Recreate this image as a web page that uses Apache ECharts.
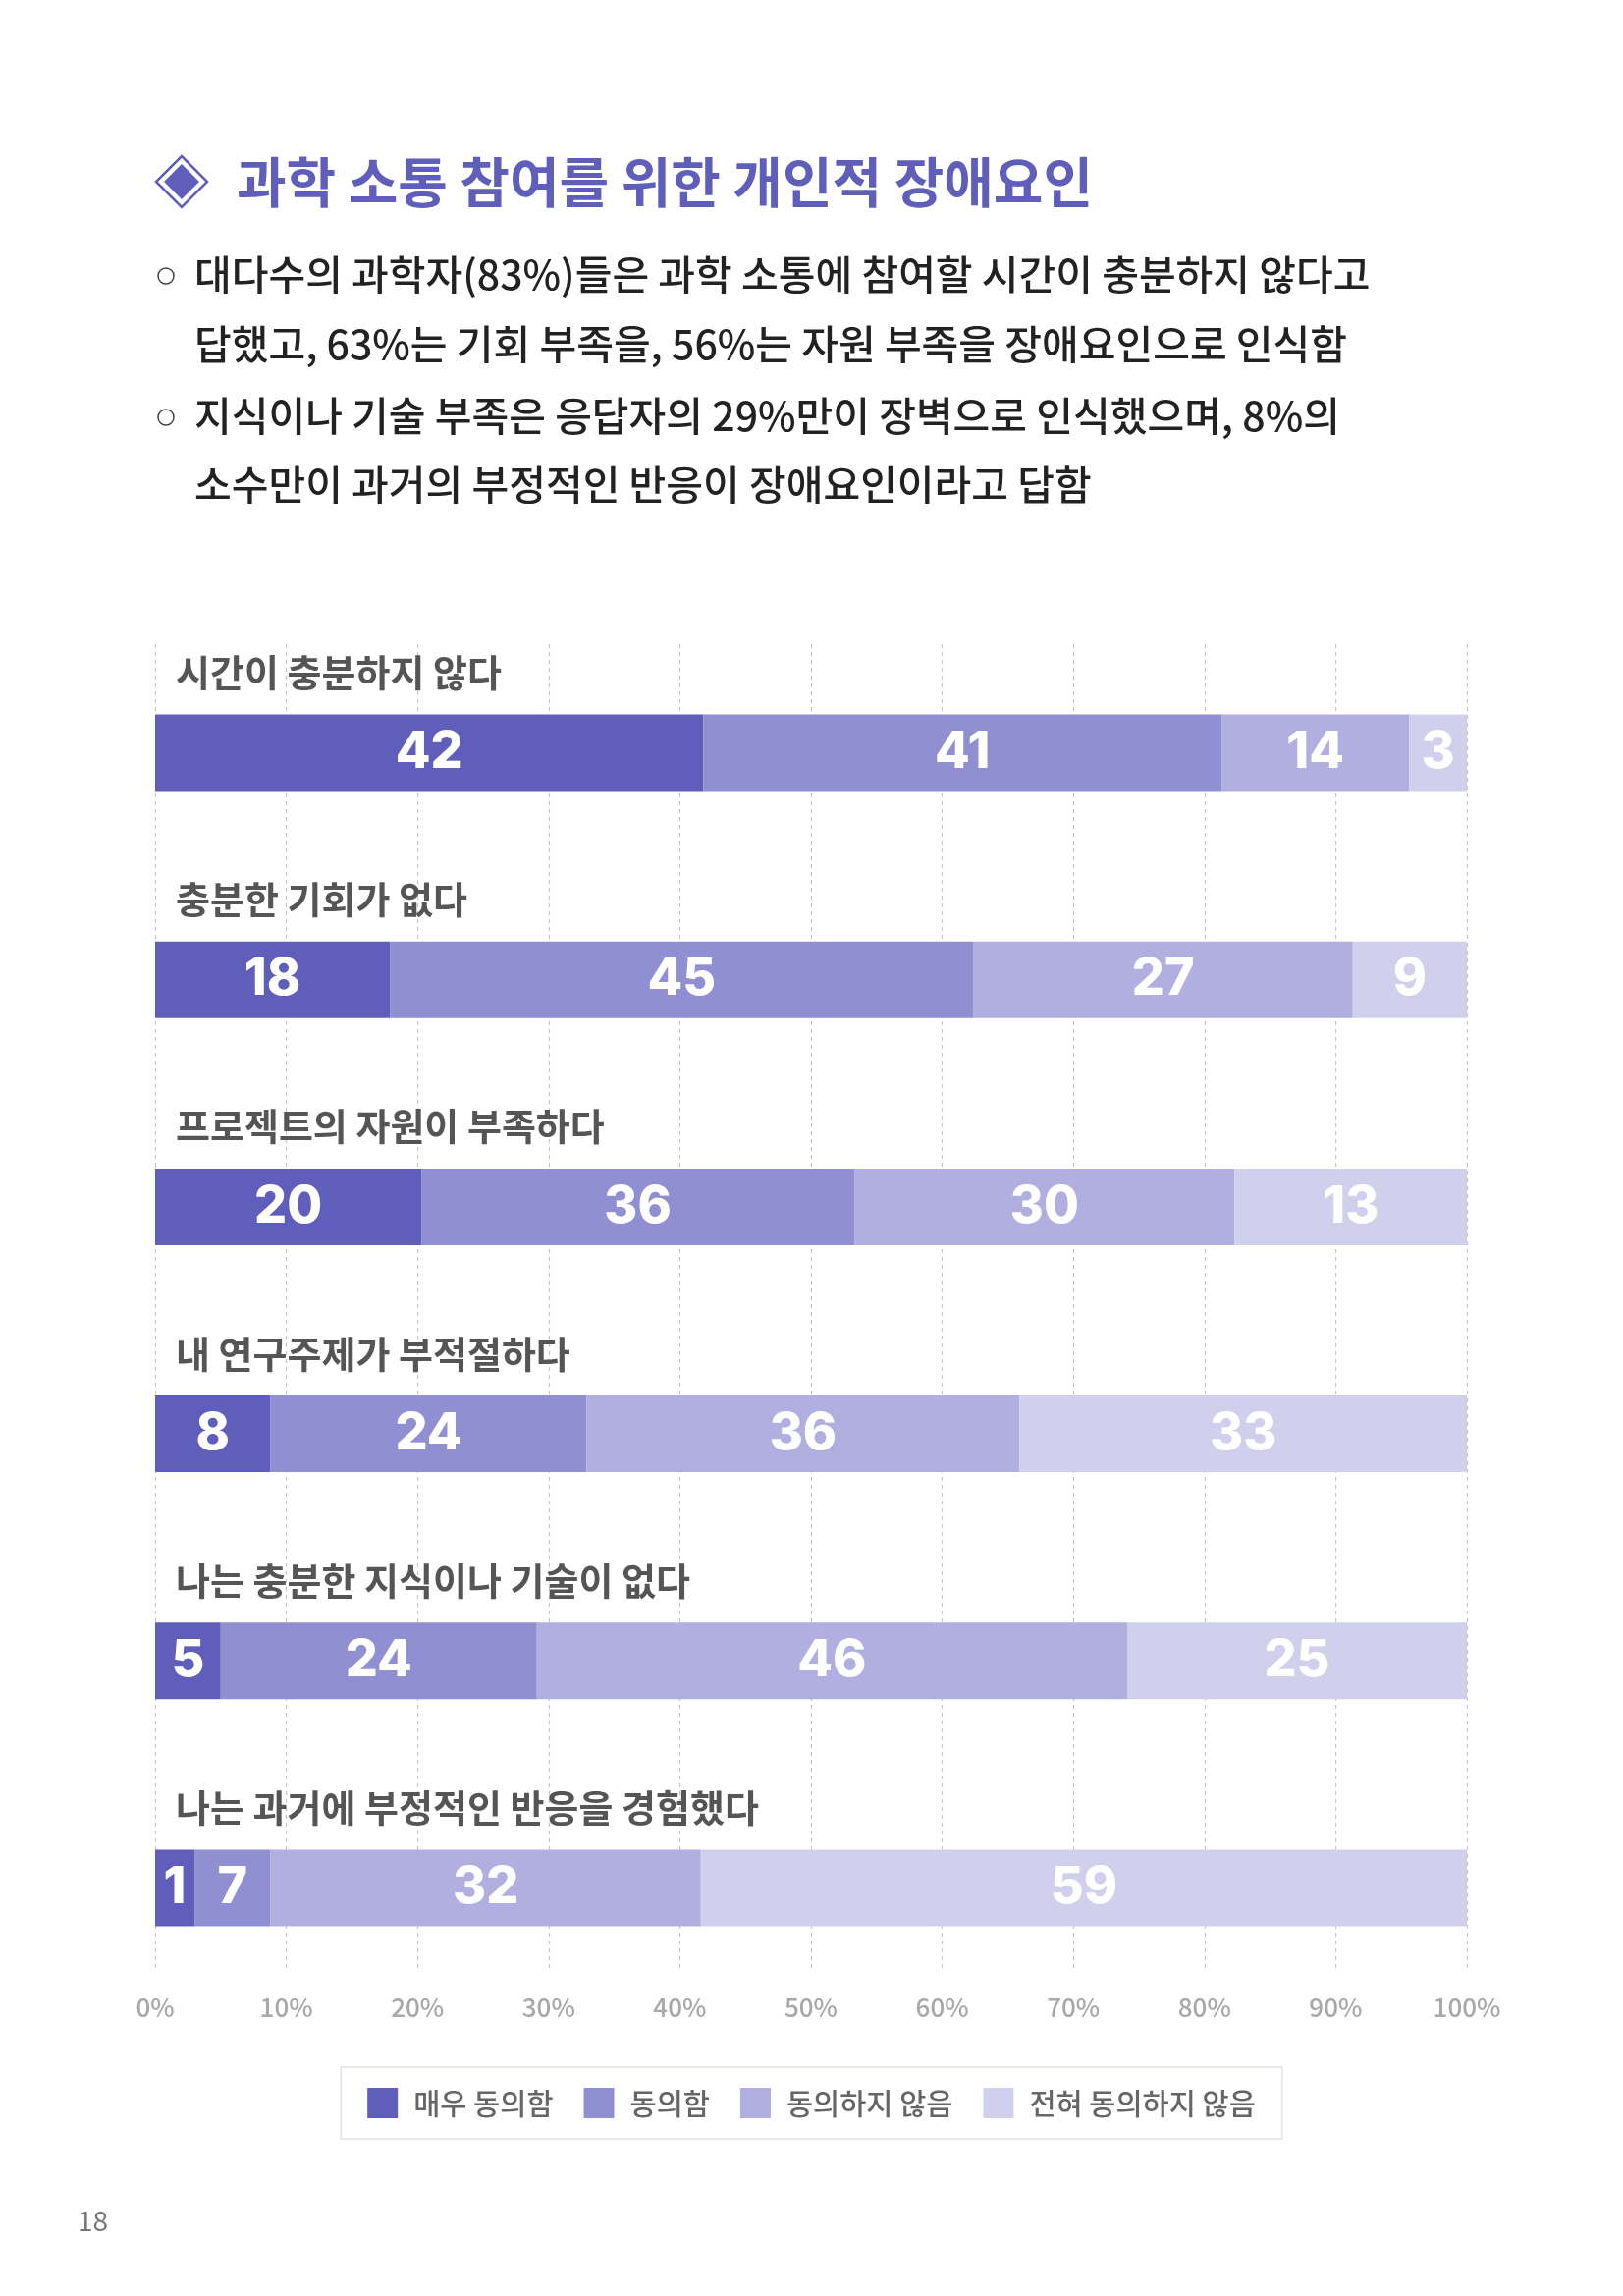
<!DOCTYPE html>
<html>
<head>
<meta charset="utf-8">
<script src="https://cdn.jsdelivr.net/npm/echarts@6/dist/echarts.min.js"></script>
<style>
  html, body { margin: 0; padding: 0; background: #fff; }
  #page { width: 1653px; height: 2338px; }
</style>
</head>
<body>
<div id="page"></div>
<script>
// Row labels (top to bottom)
const categories = [
  '시간이 충분하지 않다',
  '충분한 기회가 없다',
  '프로젝트의 자원이 부족하다',
  '내 연구주제가 부적절하다',
  '나는 충분한 지식이나 기술이 없다',
  '나는 과거에 부정적인 반응을 경험했다'
];
const seriesNames = ['매우 동의함', '동의함', '동의하지 않음', '전혀 동의하지 않음'];
const colors = ['#5f5fbb', '#8f8fd1', '#b0afdf', '#d0d0ec'];

// Bar lengths, one array per answer
const veryAgree   = [41.8, 17.9, 20.3,  8.8,  5.0,  3.0];
const agree       = [39.5, 44.5, 33.0, 24.1, 24.1,  5.8];
const disagree    = [14.3, 28.9, 29.0, 33.0, 45.0, 32.8];
const stronglyDis = [ 4.4,  8.7, 17.7, 34.1, 25.9, 58.4];

// Numbers printed inside the bars
const veryAgreeTxt   = [42, 18, 20,  8,  5,  1];
const agreeTxt       = [41, 45, 36, 24, 24,  7];
const disagreeTxt    = [14, 27, 30, 36, 46, 32];
const stronglyDisTxt = [ 3,  9, 13, 33, 25, 59];

const bullets = [
  '대다수의 과학자(83%)들은 과학 소통에 참여할 시간이 충분하지 않다고',
  '답했고, 63%는 기회 부족을, 56%는 자원 부족을 장애요인으로 인식함',
  '지식이나 기술 부족은 응답자의 29%만이 장벽으로 인식했으며, 8%의',
  '소수만이 과거의 부정적인 반응이 장애요인이라고 답함'
];

const KR = "'Noto Sans CJK KR', 'Noto Sans', sans-serif";
const chart = echarts.init(document.getElementById('page'));

const values = [veryAgree, agree, disagree, stronglyDis];
const texts = [veryAgreeTxt, agreeTxt, disagreeTxt, stronglyDisTxt];

const series = seriesNames.map((name, i) => ({
  name: name,
  type: 'bar',
  stack: 'total',
  xAxisIndex: 0,
  yAxisIndex: 0,
  barWidth: 78,
  data: values[i],
  itemStyle: { color: colors[i] },
  label: {
    show: true,
    position: 'inside',
    color: '#fff',
    fontFamily: "Inter, 'Noto Sans', sans-serif",
    fontWeight: 800,
    fontSize: 52,
    formatter: p => String(texts[i][p.dataIndex])
  }
}));

const lineY = [279, 350, 423, 493];
const graphics = [
  { type: 'polygon', shape: { points: [[185, 159], [211, 185], [185, 211], [159, 185]] },
    style: { fill: 'none', stroke: '#5f5fbb', lineWidth: 2.5 } },
  { type: 'polygon', shape: { points: [[185, 167], [203, 185], [185, 203], [167, 185]] },
    style: { fill: '#5f5fbb' } },
  { type: 'text', x: 241, y: 185,
    style: { text: '과학 소통 참여를 위한 개인적 장애요인', fill: '#5f5fbb',
      font: 'bold 55px ' + KR, textVerticalAlign: 'middle' } },
  { type: 'circle', shape: { cx: 169, cy: 281, r: 8 },
    style: { fill: 'none', stroke: '#444', lineWidth: 1.5 } },
  { type: 'circle', shape: { cx: 169, cy: 425, r: 8 },
    style: { fill: 'none', stroke: '#444', lineWidth: 1.5 } },
  { type: 'text', x: 79, y: 2261,
    style: { text: '18', fill: '#777', font: '28px ' + KR, textVerticalAlign: 'middle' } }
];
bullets.forEach((t, i) => {
  graphics.push({ type: 'text', x: 198, y: lineY[i],
    style: { text: t, fill: '#222', font: '500 41px ' + KR, textVerticalAlign: 'middle' } });
});

chart.setOption({
  animation: false,
  backgroundColor: '#fff',
  grid: [
    { left: 158, right: 159, top: 651, height: 1387 },
    { left: 158, right: 159, top: 656, bottom: 333 }
  ],
  xAxis: [
    { gridIndex: 0, type: 'value', min: 0, max: 100, show: false },
    { gridIndex: 1, type: 'value', min: 0, max: 100, interval: 10,
      axisLine: { show: false }, axisTick: { show: false },
      splitLine: { show: true, lineStyle: { color: '#c6c6c6', type: [4, 4], width: 1.2 } },
      axisLabel: { formatter: '{value}%', color: '#a8a8a8', fontFamily: KR,
        fontSize: 26, fontWeight: 500, margin: 26 } }
  ],
  yAxis: [
    { gridIndex: 0, type: 'category', inverse: true, data: categories,
      axisLine: { show: false }, axisTick: { show: false }, splitLine: { show: false },
      axisLabel: {
        inside: true, margin: 21, verticalAlign: 'middle',
        formatter: v => '{t|' + v + '}\n{s| }',
        rich: {
          t: { color: '#555', fontFamily: KR, fontWeight: 'bold', fontSize: 38, lineHeight: 40 },
          s: { fontSize: 10, lineHeight: 164 }
        }
      }, z: 5 },
    { gridIndex: 1, type: 'value', show: false, min: 0, max: 1 }
  ],
  legend: {
    data: seriesNames,
    left: 'center',
    top: 2105,
    padding: [21, 27],
    itemGap: 31,
    itemWidth: 31,
    itemHeight: 31,
    borderColor: '#e2e2ea',
    borderWidth: 1.5,
    icon: 'rect',
    textStyle: { color: '#666', fontFamily: KR, fontWeight: 500, fontSize: 29.5,
      padding: [0, 0, 0, 11] }
  },
  graphic: graphics,
  series: series
});
</script>
</body>
</html>
